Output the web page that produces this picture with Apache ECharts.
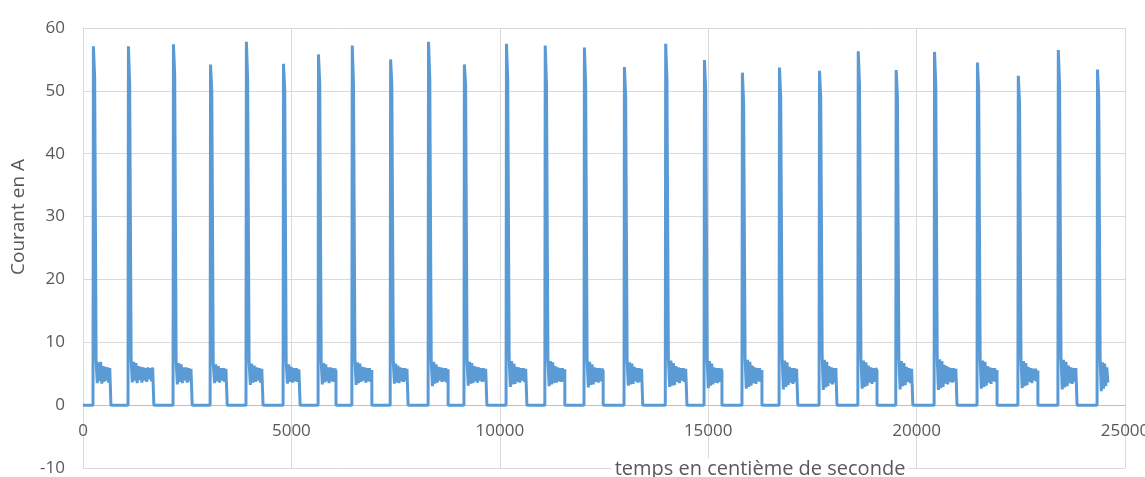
<!DOCTYPE html>
<html>
<head>
<meta charset="utf-8">
<script src="https://cdn.jsdelivr.net/npm/echarts@6/dist/echarts.min.js"></script>
<style>
  html, body { margin: 0; padding: 0; background: #fff; }
  #chart { width: 1145px; height: 477px; }
</style>
</head>
<body>
<div id="chart"></div>
<script>
// instants de démarrage (centièmes de seconde)
const spikeStart = [240, 1080, 2160, 3050, 3910, 4800, 5640, 6450, 7370, 8280, 9140, 10150, 11080, 12020,
                    12980, 13970, 14900, 15810, 16700, 17660, 18590, 19500, 20420, 21450, 22430, 23390, 24330];
// pic de courant (A)
const spikePeak = [57.1, 57.1, 57.4, 54.2, 57.8, 54.3, 55.8, 57.2, 55.0, 57.8, 54.2, 57.5, 57.2, 56.9,
                   53.8, 57.5, 54.9, 52.9, 53.7, 53.2, 56.3, 53.3, 56.2, 54.5, 52.4, 56.5, 53.4];
// epaulement juste apres le pic
const spikeShoulder = [52, 51, 52.5, 50, 52, 50, 51, 51, 51, 52, 51, 52, 51, 51,
                       49, 52, 50, 48, 49, 49, 51, 49, 51, 50, 48, 51, 49];
// fin du palier (retour a 0)
const plateauEnd = [670, 1700, 2620, 3460, 4320, 5210, 6070, 6930, 7800, 8760, 9690, 10650, 11560, 12480,
                    13430, 14490, 15330, 16290, 17150, 18090, 19050, 19910, 20970, 21930, 22910, 23850, 24590];
// palier bruite apres chaque pic
const plateauSamples = [
  [7.0, 3.5, 6.8, 3.8, 6.9, 3.4, 6.2, 3.7, 6.1, 3.9, 6.0, 3.6, 5.9, 5.6],
  [7.2, 3.6, 6.9, 3.9, 6.7, 3.5, 6.2, 4.0, 6.1, 3.6, 6.0, 3.9, 5.9, 3.7, 6.0, 4.1, 5.9, 3.8, 6.0, 5.8],
  [6.9, 3.3, 6.7, 3.7, 6.5, 3.5, 6.0, 3.9, 6.0, 3.6, 5.9, 3.8, 5.8, 5.5],
  [6.6, 3.5, 6.5, 3.8, 6.2, 3.6, 5.9, 3.9, 5.9, 3.7, 5.8, 5.6],
  [6.8, 3.2, 6.6, 3.6, 6.3, 3.7, 6.0, 3.9, 5.9, 3.6, 5.8, 5.6],
  [6.7, 3.4, 6.5, 3.7, 6.1, 3.6, 5.9, 3.8, 5.9, 3.7, 5.7, 5.5],
  [6.9, 3.3, 6.7, 3.6, 6.5, 3.8, 6.0, 3.5, 6.0, 3.8, 5.9, 3.7, 5.8, 5.4],
  [7.0, 3.2, 6.8, 3.5, 6.6, 3.7, 6.1, 3.9, 6.0, 3.6, 5.9, 3.8, 5.9, 3.7, 5.6],
  [6.8, 3.4, 6.6, 3.6, 6.3, 3.5, 6.0, 3.8, 5.9, 3.7, 5.9, 3.9, 5.8, 5.5],
  [7.1, 3.0, 6.9, 3.4, 6.5, 3.6, 6.1, 3.9, 6.0, 3.7, 5.9, 3.8, 5.9, 3.6, 5.7],
  [7.0, 3.1, 6.9, 3.4, 6.7, 3.5, 6.2, 3.8, 6.1, 3.6, 6.0, 3.9, 5.9, 3.7, 5.9, 3.8, 5.8, 5.5],
  [7.2, 2.9, 7.0, 3.3, 6.6, 3.4, 6.1, 3.7, 6.0, 3.6, 5.9, 3.9, 5.9, 3.7, 5.8, 5.6],
  [7.3, 3.0, 7.0, 3.3, 6.8, 3.5, 6.2, 3.6, 6.0, 3.8, 5.9, 3.7, 5.9, 3.8, 5.7],
  [7.1, 2.8, 6.9, 3.2, 6.5, 3.3, 6.0, 3.7, 5.9, 3.6, 5.9, 3.8, 5.8, 5.4],
  [7.0, 3.1, 6.8, 3.3, 6.6, 3.4, 6.1, 3.8, 5.9, 3.6, 5.9, 3.7, 5.8, 5.5],
  [7.4, 2.9, 7.1, 3.1, 6.7, 3.2, 6.2, 3.7, 6.0, 3.5, 5.9, 3.9, 5.9, 3.7, 5.8, 5.6],
  [7.2, 2.7, 7.0, 3.1, 6.6, 3.3, 6.0, 3.6, 5.9, 3.5, 5.9, 3.7, 5.8, 5.4],
  [7.5, 2.6, 7.2, 2.9, 6.9, 3.1, 6.3, 3.5, 6.0, 3.4, 5.9, 3.8, 5.9, 3.7, 5.6],
  [7.3, 2.5, 7.1, 2.9, 6.8, 3.2, 6.1, 3.6, 5.9, 3.4, 5.9, 3.7, 5.8, 5.5],
  [7.6, 2.4, 7.2, 2.8, 6.9, 3.0, 6.2, 3.5, 6.0, 3.3, 5.9, 3.6, 5.9, 5.6],
  [7.4, 2.6, 7.1, 2.9, 6.8, 3.1, 6.3, 3.6, 6.0, 3.4, 5.9, 3.7, 5.9, 5.5],
  [7.3, 2.5, 7.0, 3.0, 6.7, 3.2, 6.1, 3.7, 5.9, 3.5, 5.8, 5.7],
  [7.5, 2.4, 7.3, 2.7, 7.0, 2.9, 6.4, 3.4, 6.2, 3.3, 6.0, 3.7, 5.9, 3.6, 5.9, 3.8, 5.8, 5.5],
  [7.4, 2.6, 7.1, 2.9, 6.9, 3.1, 6.2, 3.6, 6.0, 3.4, 5.9, 3.8, 5.9, 3.7, 5.6],
  [7.2, 2.7, 7.0, 3.0, 6.7, 3.2, 6.1, 3.7, 5.9, 3.5, 5.8, 3.9, 5.8, 3.8, 5.5],
  [7.5, 2.5, 7.2, 2.8, 6.9, 3.0, 6.3, 3.5, 6.0, 3.4, 5.9, 3.7, 5.9, 5.6],
  [7.0, 2.2, 6.8, 2.6, 6.6, 3.0, 6.0, 3.6]
];
// durees dans le pic (centiemes) : montee, epaulement, debut du palier
const riseTime = 10;
const shoulderTime = 40;
const plateauStart = 75;

const xTicks = [0, 5000, 10000, 15000, 20000, 25000];
const yTicks = [-10, 0, 10, 20, 30, 40, 50, 60];

let points = [[0, 0]];
for (let i = 0; i < spikeStart.length; i++) {
  let t0 = spikeStart[i];
  points.push([t0, 0]);
  points.push([t0 + riseTime, spikePeak[i]]);
  points.push([t0 + shoulderTime, spikeShoulder[i]]);
  let p = plateauSamples[i];
  let tA = t0 + plateauStart, tB = plateauEnd[i];
  for (let k = 0; k < p.length; k++) {
    points.push([tA + (tB - tA) * k / (p.length - 1), p[k]]);
  }
  if (i < spikeStart.length - 1) points.push([tB, 0]);
}

let chart = echarts.init(document.getElementById('chart'));
let fontFam = '"Open Sans", "Segoe UI", sans-serif';
let option = {
  animation: false,
  grid: { left: 83, right: 20, top: 28, bottom: 9, containLabel: false, outerBoundsMode: 'none' },
  xAxis: {
    type: 'value',
    min: xTicks[0],
    max: xTicks[xTicks.length - 1],
    interval: xTicks[1] - xTicks[0],
    // axe horizontal croise l'axe vertical en 0 (63 px au-dessus du bas)
    offset: -63,
    axisLine: { show: true, onZero: false, lineStyle: { color: '#bfbfbf', width: 1 } },
    axisTick: { show: false },
    axisLabel: {
      color: '#595959', fontSize: 17, fontFamily: fontFam, margin: 18,
      formatter: function (v) { return String(v); }
    },
    splitLine: { show: true, lineStyle: { color: '#d9d9d9', width: 1 } }
  },
  yAxis: {
    type: 'value',
    min: yTicks[0],
    max: yTicks[yTicks.length - 1],
    interval: yTicks[1] - yTicks[0],
    axisLine: { show: true, lineStyle: { color: '#d9d9d9', width: 1 } },
    axisTick: { show: false },
    axisLabel: {
      color: '#595959', fontSize: 17, fontFamily: fontFam, margin: 18,
      formatter: function (v) { return String(v); }
    },
    splitLine: { show: true, lineStyle: { color: '#d9d9d9', width: 1 } }
  },
  graphic: [
    {
      type: 'text', x: 19, y: 217, rotation: Math.PI / 2, z: 100,
      style: {
        text: 'Courant en A', fill: '#595959', font: '19px ' + fontFam,
        align: 'center', verticalAlign: 'middle', textAlign: 'center', textVerticalAlign: 'middle'
      }
    },
    {
      type: 'text', x: 760, y: 469, z: 100,
      style: {
        text: 'temps en centième de seconde', fill: '#595959', font: '20px ' + fontFam,
        align: 'center', verticalAlign: 'middle', textAlign: 'center', textVerticalAlign: 'middle',
        backgroundColor: '#ffffff', padding: [1, 3]
      }
    }
  ],
  series: [{
    type: 'line',
    data: points,
    showSymbol: false,
    symbol: 'none',
    sampling: null,
    lineStyle: { color: '#5B9BD5', width: 3 },
    itemStyle: { color: '#5B9BD5' }
  }]
};
chart.setOption(option);
window.addEventListener('resize', function () {
  chart.resize();
});
</script>
</body>
</html>
